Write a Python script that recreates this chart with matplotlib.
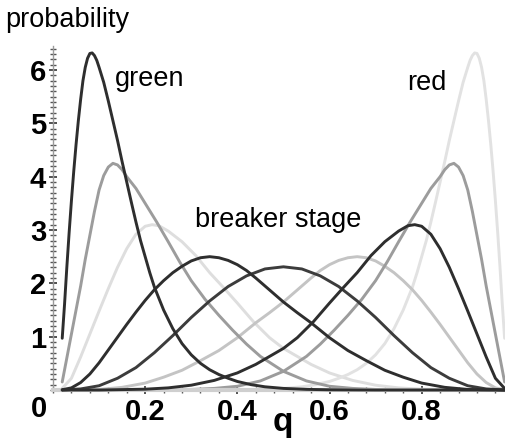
import matplotlib
matplotlib.use("Agg")
import matplotlib.pyplot as plt
from matplotlib.ticker import MultipleLocator, FixedLocator

# ---- data (q, probability) ----
c1_q = [0.020,0.025,0.030,0.035,0.040,0.045,0.050,0.055,0.060,0.065,0.070,0.075,0.080,0.085,0.090,0.095,0.100,0.110,0.120,0.130,
        0.140,0.150,0.160,0.170,0.180,0.190,0.200,0.210,0.220,0.240,0.260,0.280,0.300,0.320,0.340,0.360,0.380,0.400,0.430,0.460,
        0.500,0.550,0.600,0.700,0.800,0.900,0.980]
c1_y = [0.97,1.60,2.30,2.95,3.55,4.10,4.60,5.05,5.45,5.80,6.05,6.22,6.31,6.32,6.27,6.18,6.05,5.77,5.42,5.05,
        4.68,4.28,3.90,3.52,3.15,2.80,2.50,2.20,1.93,1.50,1.15,0.87,0.66,0.50,0.38,0.29,0.22,0.16,0.10,0.06,
        0.03,0.012,0.004,0,0,0,0]

c2_q = [0.020,0.030,0.040,0.050,0.060,0.070,0.080,0.090,0.100,0.110,0.120,0.130,0.140,0.150,0.160,0.180,0.200,0.225,0.250,0.275,
        0.300,0.330,0.360,0.390,0.420,0.450,0.500,0.550,0.600,0.650,0.700,0.800,0.900,0.980]
c2_y = [0.15,0.60,1.05,1.50,1.95,2.45,2.90,3.35,3.75,4.02,4.18,4.25,4.22,4.13,4.00,3.78,3.50,3.15,2.78,2.40,
        2.05,1.70,1.40,1.12,0.86,0.63,0.35,0.17,0.07,0.03,0.01,0,0,0]

c3_q = [0.020,0.040,0.060,0.080,0.100,0.120,0.140,0.160,0.180,0.200,0.215,0.230,0.250,0.280,0.310,0.340,0.370,0.400,0.435,0.470,
        0.500,0.530,0.560,0.600,0.650,0.700,0.750,0.800,0.900,0.980]
c3_y = [0.03,0.22,0.62,1.05,1.48,1.90,2.30,2.65,2.92,3.07,3.10,3.08,2.98,2.78,2.52,2.20,1.92,1.63,1.28,0.98,
        0.78,0.63,0.48,0.32,0.18,0.09,0.04,0.015,0,0]

c4_q = [0.02,0.04,0.06,0.08,0.10,0.12,0.14,0.16,0.18,0.20,0.22,0.24,0.26,0.28,0.30,0.32,0.34,0.36,0.38,0.40,
        0.42,0.44,0.46,0.48,0.50,0.53,0.56,0.60,0.64,0.68,0.72,0.76,0.80,0.85,0.90,0.98]
c4_y = [0.005,0.04,0.14,0.30,0.51,0.75,0.99,1.23,1.46,1.68,1.88,2.05,2.20,2.32,2.42,2.48,2.50,2.48,2.43,2.35,
        2.24,2.10,1.95,1.80,1.65,1.45,1.26,0.98,0.74,0.55,0.37,0.24,0.13,0.05,0.01,0]

c5_q = [0.02,0.06,0.10,0.14,0.18,0.22,0.26,0.30,0.34,0.38,0.42,0.46,0.50,0.54,0.58,0.62,0.66,0.70,0.74,0.78,
        0.82,0.86,0.90,0.94,0.98]
c5_y = [0,0.02,0.08,0.22,0.42,0.70,1.02,1.36,1.67,1.94,2.14,2.27,2.31,2.27,2.14,1.94,1.67,1.36,1.02,0.70,
        0.42,0.22,0.08,0.02,0]

c6_q = [0.02,0.10,0.15,0.20,0.24,0.28,0.32,0.36,0.40,0.44,0.47,0.50,0.52,0.54,0.56,0.58,0.60,0.62,0.64,0.66,
        0.68,0.70,0.72,0.74,0.76,0.78,0.80,0.82,0.84,0.86,0.88,0.90,0.92,0.94,0.96,0.98]
c6_y = [0,0.01,0.05,0.13,0.24,0.37,0.55,0.74,0.98,1.26,1.45,1.65,1.80,1.95,2.10,2.24,2.35,2.43,2.48,2.50,
        2.48,2.42,2.32,2.20,2.05,1.88,1.68,1.46,1.23,0.99,0.75,0.51,0.30,0.14,0.04,0.005]

c7_q = [0.02,0.10,0.20,0.25,0.30,0.35,0.40,0.44,0.47,0.50,0.53,0.565,0.60,0.63,0.66,0.69,0.72,0.75,0.77,0.785,
        0.80,0.82,0.84,0.86,0.88,0.90,0.92,0.94,0.96,0.98]
c7_y = [0,0,0.015,0.04,0.09,0.18,0.32,0.48,0.63,0.78,0.98,1.28,1.63,1.92,2.20,2.52,2.78,2.98,3.08,3.10,
        3.07,2.92,2.65,2.30,1.90,1.48,1.05,0.62,0.22,0.03]

c8_q = [0.02,0.10,0.20,0.30,0.35,0.40,0.45,0.50,0.55,0.58,0.61,0.64,0.67,0.70,0.725,0.75,0.775,0.80,0.82,0.84,
        0.85,0.86,0.87,0.88,0.89,0.90,0.91,0.92,0.93,0.94,0.95,0.96,0.97,0.98]
c8_y = [0,0,0,0.01,0.03,0.07,0.17,0.35,0.63,0.86,1.12,1.40,1.70,2.05,2.40,2.78,3.15,3.50,3.78,4.00,
        4.13,4.22,4.25,4.18,4.02,3.75,3.35,2.90,2.45,1.95,1.50,1.05,0.60,0.15]

c9_q = [0.02,0.10,0.20,0.30,0.40,0.45,0.50,0.54,0.57,0.60,0.62,0.64,0.66,0.68,0.70,0.72,0.74,0.76,0.78,0.79,
        0.80,0.81,0.82,0.83,0.84,0.85,0.86,0.87,0.88,0.89,0.90,0.905,0.91,0.915,0.92,0.925,0.93,0.935,0.94,0.945,
        0.95,0.955,0.96,0.965,0.97,0.975,0.98]
c9_y = [0,0,0,0,0.004,0.012,0.03,0.06,0.10,0.16,0.22,0.29,0.38,0.50,0.66,0.87,1.15,1.50,1.93,2.20,
        2.50,2.80,3.15,3.52,3.90,4.28,4.68,5.05,5.42,5.77,6.05,6.18,6.27,6.32,6.31,6.22,6.05,5.80,5.45,5.05,
        4.60,4.10,3.55,2.95,2.30,1.60,0.97]

curves = [(c1_q, c1_y), (c2_q, c2_y), (c3_q, c3_y), (c4_q, c4_y), (c5_q, c5_y),
          (c6_q, c6_y), (c7_q, c7_y), (c8_q, c8_y), (c9_q, c9_y)]
colors = ["#2e2e2e", "#9c9c9c", "#dedede", "#2e2e2e", "#3c3c3c",
          "#c4c4c4", "#2e2e2e", "#9c9c9c", "#e2e2e2"]
x_ticks = [0.2, 0.4, 0.6, 0.8]
x_tick_labels = ["0.2", "0.4", "0.6", "0.8"]
y_ticks = [1, 2, 3, 4, 5, 6]
y_tick_labels = ["1", "2", "3", "4", "5", "6"]

W, H = 506, 441
fig = plt.figure(figsize=(W / 100, H / 100), dpi=100)
ax = fig.add_axes([53 / W, 51 / H, (W - 53) / W, 344 / H])
ax.set_xlim(0, 0.983)
ax.set_ylim(0, 6.45)

order = [2, 8, 5, 1, 7, 4, 6, 3, 0]
for i in order:
    q, y = curves[i]
    ax.plot(q, y, color=colors[i], lw=2.1, solid_capstyle="round", zorder=3 if colors[i] < "#80" else 2, clip_on=False)

for s in ["top", "right"]:
    ax.spines[s].set_visible(False)
ax.spines["left"].set_color("#9a9a9a")
ax.spines["left"].set_linewidth(1.0)
ax.spines["bottom"].set_color("#cfcfcf")
ax.spines["bottom"].set_linewidth(3.0)

tick_font = dict(family="Liberation Sans", weight="bold", size=21)
ax.xaxis.set_major_locator(FixedLocator(x_ticks))
ax.set_xticklabels(x_tick_labels, fontdict=tick_font)
ax.xaxis.set_minor_locator(MultipleLocator(0.04))
ax.yaxis.set_major_locator(FixedLocator(y_ticks))
ax.set_yticklabels(y_tick_labels, fontdict=tick_font)
ax.yaxis.set_minor_locator(MultipleLocator(0.1))
ax.tick_params(axis="x", which="major", direction="inout", length=6, width=1.2, color="#333333", pad=3)
ax.tick_params(axis="x", which="minor", direction="inout", length=4, width=1.0, color="#555555")
ax.tick_params(axis="y", which="major", direction="inout", length=6, width=1.2, color="#333333", pad=2)
ax.tick_params(axis="y", which="minor", direction="inout", length=4, width=1.0, color="#555555")

lab_font = dict(family="Liberation Sans", size=19.5, color="black")
fig.text(5 / W, 1 - 27 / H, "probability", ha="left", va="baseline", **lab_font)
fig.text(115 / W, 1 - 86 / H, "green", ha="left", va="baseline", **lab_font)
fig.text(407 / W, 1 - 90 / H, "red", ha="left", va="baseline", **lab_font)
fig.text(195 / W, 1 - 227 / H, "breaker stage", ha="left", va="baseline", **lab_font)
fig.text(283 / W, 1 - 431 / H, "q", ha="center", va="baseline", family="Liberation Sans", weight="bold", size=24)
fig.text(39 / W, 1 - 409 / H, "0", ha="center", va="center", **tick_font)

fig.savefig("out.png", dpi=100)
